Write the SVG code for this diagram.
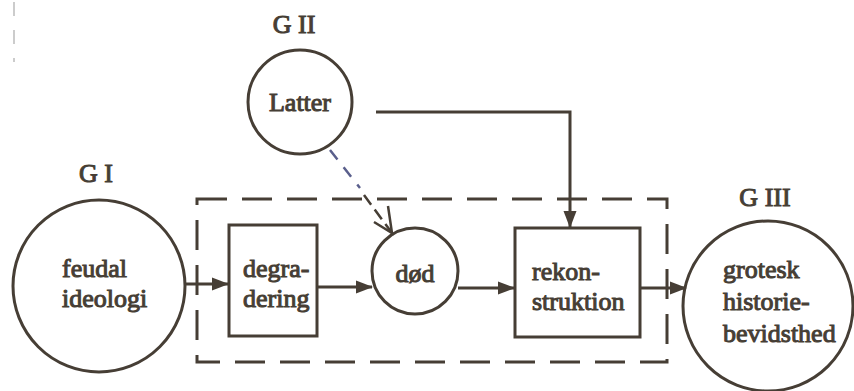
<svg xmlns="http://www.w3.org/2000/svg" width="854" height="391" viewBox="0 0 854 391">
<style>
.s{fill:none;stroke:#463e35;stroke-width:3}
.t{font-family:"Liberation Serif",serif;font-size:26px;fill:#463e35;stroke:#463e35;stroke-width:1}
.c{text-anchor:middle}
.d{fill:none;stroke:#463e35;stroke-width:3;stroke-dasharray:30 15}
</style>
<defs>
<marker id="a" markerWidth="17" markerHeight="15" refX="16" refY="7.5" orient="auto" markerUnits="userSpaceOnUse">
<path d="M0,1 L17,7.5 L0,14 Z" fill="#463e35"/>
</marker>
</defs>
<rect width="854" height="391" fill="#fff"/>
<line x1="14" y1="2" x2="14" y2="62" stroke="#ccc" stroke-width="2" stroke-dasharray="14 14"/>
<g id="boundary">
<rect x="197" y="199" width="470" height="163" class="d"/>
</g>
<g id="GI">
<text x="96" y="182" class="t c">G I</text>
<circle cx="99" cy="286" r="86" class="s"/>
<text x="62" y="277" class="t">feudal</text>
<text x="62" y="307" class="t">ideologi</text>
</g>
<g id="degradering">
<rect x="229" y="225" width="88" height="111" class="s"/>
<text x="243" y="277" class="t">degra-</text>
<text x="243" y="307" class="t">dering</text>
</g>
<g id="dod">
<circle cx="415" cy="271" r="43" class="s"/>
<text x="415" y="282" class="t c">død</text>
</g>
<g id="rekonstruktion">
<rect x="515" y="228" width="125" height="109" class="s"/>
<text x="532" y="280" class="t">rekon-</text>
<text x="532" y="310" class="t">struktion</text>
</g>
<g id="GII">
<text x="294" y="33" class="t c">G II</text>
<circle cx="300" cy="102" r="52" class="s"/>
<text x="300" y="111" class="t c">Latter</text>
</g>
<g id="GIII">
<text x="765" y="206" class="t c">G III</text>
<circle cx="768" cy="306" r="85" class="s"/>
<text x="723" y="278" class="t">grotesk</text>
<text x="723" y="310" class="t">historie-</text>
<text x="723" y="342" class="t">bevidsthed</text>
</g>
<g id="connectors">
<line x1="185" y1="284" x2="228" y2="284" class="s" marker-end="url(#a)"/>
<line x1="317" y1="287" x2="372" y2="287" class="s" marker-end="url(#a)"/>
<line x1="458" y1="288" x2="514" y2="288" class="s" marker-end="url(#a)"/>
<line x1="640" y1="288" x2="686" y2="288" class="s" marker-end="url(#a)"/>
<polyline points="376,112 570,112 570,227" class="s" marker-end="url(#a)"/>
<line x1="330" y1="150" x2="360" y2="188" stroke="#5a5f8c" stroke-width="2.5" stroke-dasharray="12 10"/>
<line x1="364" y1="195" x2="392" y2="233" stroke="#463e35" stroke-width="2.5" stroke-dasharray="12 6"/>
<polyline points="388,206 392,233 374,222" fill="none" stroke="#463e35" stroke-width="2.5"/>
</g>
</svg>
